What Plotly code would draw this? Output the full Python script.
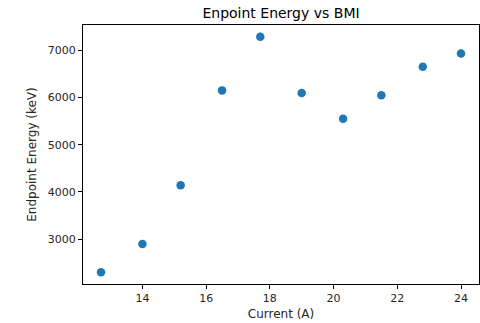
import plotly.graph_objects as go

current = [12.7, 14.0, 15.2, 16.5, 17.7, 19.0, 20.3, 21.5, 22.8, 24.0]
energy = [2300, 2900, 4140, 6150, 7285, 6095, 5550, 6045, 6650, 6930]

x_ticks = [14, 16, 18, 20, 22, 24]
y_ticks = [3000, 4000, 5000, 6000, 7000]

font = "DejaVu Sans"
ink = "#262626"

fig = go.Figure(
    go.Scatter(
        x=current,
        y=energy,
        mode="markers",
        marker=dict(color="#1f77b4", size=8.5, line=dict(width=0)),
        showlegend=False,
    )
)

pad_x = 0.05 * (max(current) - min(current))
pad_y = 0.05 * (max(energy) - min(energy))

axis_common = dict(
    showgrid=False,
    zeroline=False,
    showline=True,
    linecolor="black",
    linewidth=1,
    mirror=True,
    ticks="outside",
    ticklen=4,
    tickwidth=1,
    tickcolor="black",
    tickfont=dict(family=font, size=11, color=ink),
)

fig.update_xaxes(
    range=[min(current) - pad_x, max(current) + pad_x],
    tickvals=x_ticks,
    title=dict(text="Current (A)", font=dict(family=font, size=12, color=ink), standoff=5),
    **axis_common,
)
fig.update_yaxes(
    range=[min(energy) - pad_y, max(energy) + pad_y],
    tickvals=y_ticks,
    title=dict(text="Endpoint Energy (keV)", font=dict(family=font, size=12, color=ink), standoff=8),
    **axis_common,
)

fig.update_layout(
    width=480,
    height=323,
    margin=dict(l=83, r=1, t=25, b=39),
    paper_bgcolor="white",
    plot_bgcolor="white",
    title=dict(
        text="Enpoint Energy vs BMI",
        font=dict(family=font, size=14, color="black"),
        x=(83 + 479) / 2 / 480,
        xanchor="center",
        y=1 - 13 / 323,
        yanchor="middle",
        yref="container",
    ),
)

fig.write_html("out.html")
